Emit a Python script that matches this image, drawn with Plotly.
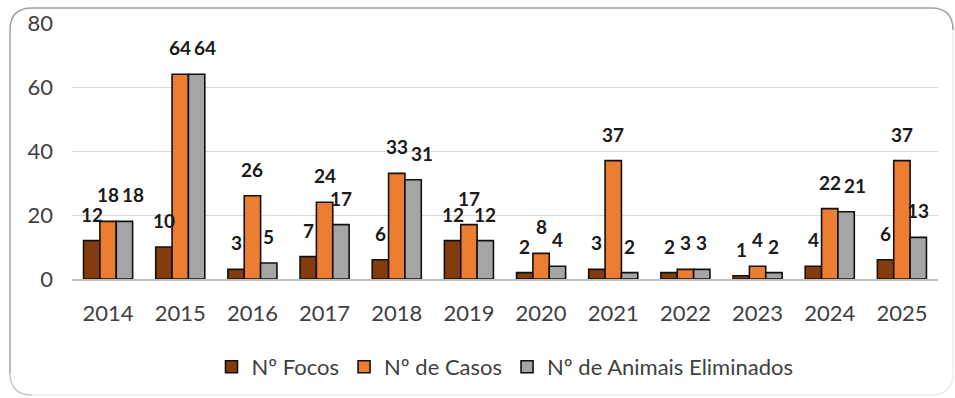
import plotly.graph_objects as go

years = ["2014", "2015", "2016", "2017", "2018", "2019", "2020", "2021", "2022", "2023", "2024", "2025"]
focos = [12, 10, 3, 7, 6, 12, 2, 3, 2, 1, 4, 6]
casos = [18, 64, 26, 24, 33, 17, 8, 37, 3, 4, 22, 37]
eliminados = [18, 64, 5, 17, 31, 12, 4, 2, 3, 2, 21, 13]

series_names = ["Nº Focos", "Nº de Casos", "Nº de Animais Eliminados"]
series_values = [focos, casos, eliminados]
series_colors = ["#843C0C", "#ED7D31", "#A5A5A5"]

W, H = 955, 398
L, R, T, B = 72, 17, 23, 119
PW, PH = W - L - R, H - T - B
YMAX = 80
BARGAP = 0.32
LABEL_FONT = 19
DIGIT_W = 10.5      # approx. px width of one bold digit
LABEL_GAP = 18      # px between bar top and label glyph bottom
MIN_SEP = 4         # minimum horizontal space between neighbouring labels


def px(x):
    return (x - L) / PW


def py(y):
    return (H - B - y) / PH


fig = go.Figure()
for name, vals, col in zip(series_names, series_values, series_colors):
    fig.add_trace(go.Bar(
        x=years, y=vals, name=name,
        marker=dict(color=col, line=dict(color="#111111", width=1.6)),
        cliponaxis=False,
    ))

# data labels placed above bars with simple collision avoidance (like Excel)
bar_w = PW / len(years) * (1 - BARGAP) / len(series_values)
annotations = []
for gi, yr in enumerate(years):
    placed = []  # (left, right, bottom_px_from_axis)
    for si, vals in enumerate(series_values):
        v = vals[gi]
        txt = str(v)
        half = len(txt) * DIGIT_W / 2
        center = (si - (len(series_values) - 1) / 2) * bar_w
        bottom = v * PH / YMAX + LABEL_GAP
        for (pl, pr, pb) in placed:
            if abs(pb - bottom) < 14 and center - half < pr + MIN_SEP:
                center = pr + MIN_SEP + half
        placed.append((center - half, center + half, bottom))
        annotations.append(dict(
            x=gi, y=v, xref="x", yref="y", text=txt, showarrow=False,
            xanchor="center", yanchor="bottom", xshift=center, yshift=LABEL_GAP - 5,
            font=dict(family="Lato", size=LABEL_FONT, color="#1a1a1a", weight="bold"),
        ))

r = 22
x0, x1, y0, y1 = 10, 953, 8, 395
path_dark = (f"M {px(x0)} {py(y1 - r)} L {px(x0)} {py(y0 + r)} "
             f"Q {px(x0)} {py(y0)} {px(x0 + r)} {py(y0)} "
             f"L {px(x1 - r)} {py(y0)} Q {px(x1)} {py(y0)} {px(x1)} {py(y0 + r)}")
path_left_bottom = (f"M {px(x0)} {py(y1 - r)} Q {px(x0)} {py(y1)} {px(x0 + r)} {py(y1)}")
path_light = (f"M {px(x1)} {py(y0 + r)} L {px(x1)} {py(y1 - r)} "
              f"Q {px(x1)} {py(y1)} {px(x1 - r)} {py(y1)} L {px(x0 + r)} {py(y1)}")

fig.update_layout(
    width=W, height=H,
    margin=dict(l=L, r=R, t=T, b=B, autoexpand=False),
    paper_bgcolor="white", plot_bgcolor="white",
    barmode="group", bargap=BARGAP, bargroupgap=0,
    font=dict(family="Lato", color="#404040"),
    showlegend=True,
    legend=dict(orientation="h", x=0.5, xanchor="center", y=py(367), yanchor="middle",
                font=dict(family="Lato", size=22, color="#404040"),
                itemwidth=30, traceorder="normal"),
    annotations=annotations,
    shapes=[
        dict(type="path", xref="paper", yref="paper", path=path_light,
             line=dict(color="#ececec", width=1.5), layer="below"),
        dict(type="path", xref="paper", yref="paper", path=path_dark,
             line=dict(color="#a0a0a0", width=1.5), layer="below"),
        dict(type="path", xref="paper", yref="paper", path=path_left_bottom,
             line=dict(color="#c8c8c8", width=1.5), layer="below"),
    ],
)
fig.update_xaxes(
    type="category",
    showgrid=False, showline=True, linecolor="#bfbfbf", linewidth=2,
    tickfont=dict(family="Lato", size=22, color="#404040"),
    ticks="", ticklabelstandoff=14, automargin=False,
)
fig.update_yaxes(
    range=[0, YMAX], dtick=20, showgrid=True, gridcolor="#d9d9d9", gridwidth=1.3,
    zeroline=False, showline=False,
    tickfont=dict(family="Lato", size=22, color="#404040"),
    ticks="", ticklabelstandoff=18, automargin=False,
)

fig.write_html(
    "out.html",
    config={"displayModeBar": False},
    post_script="document.body.style.margin='0';document.body.style.overflow='hidden';",
)
